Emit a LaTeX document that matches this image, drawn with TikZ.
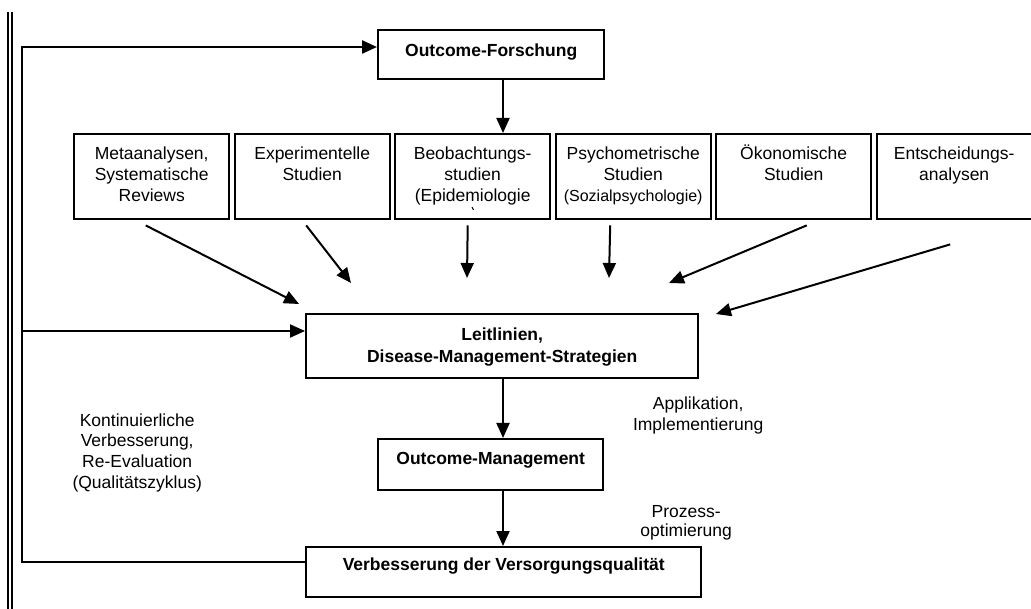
\documentclass[tikz,border=0pt]{standalone}
\usepackage{fontspec}
\setmainfont{Liberation Sans}
\usetikzlibrary{arrows.meta}
\newcommand\mytxt[4]{\parbox[c][#2][t]{#1}{\centering\rule{0pt}{#3}#4}}
\begin{document}
\begin{tikzpicture}[x=1pt,y=-1pt,
  every node/.style={font=\fontsize{17.5}{21}\selectfont},
  bx/.style={draw, line width=2.4pt, inner sep=0pt, anchor=north west},
  lb/.style={inner sep=0pt, anchor=north west},
  arr/.style={line width=2pt, -{Triangle[length=15pt,width=13pt]}},
  ln/.style={line width=2.4pt}]
\useasboundingbox (0,0) rectangle (1031,609);

% left double border
\draw[line width=1.3pt] (8,12) -- (8,609);
\draw[line width=1.3pt] (12,12) -- (12,609);

% main boxes
\node[bx] (ofo) at (377,29) {\mytxt{226pt}{49pt}{26pt}{\bfseries Outcome-Forschung}};
\node[bx] (b1) at (73,133) {\mytxt{155pt}{85pt}{25pt}{Metaanalysen,\\Systematische\\Reviews}};
\node[bx] (b2) at (233.5,133) {\mytxt{155pt}{85pt}{25pt}{Experimentelle\\Studien}};
\node[bx] (b3) at (394,133) {\mytxt{155pt}{85pt}{25pt}{Beobachtungs-\\studien\\(Epidemiologie}};
\node[bx] (b4) at (554.5,133) {\mytxt{155pt}{85pt}{25pt}{Psychometrische\\Studien\\{\fontsize{16}{21}\selectfont(Sozialpsychologie)}}};
\node[bx] (b5) at (715,133) {\mytxt{155pt}{85pt}{25pt}{Ökonomische\\Studien}};
\node[bx] (b6) at (875.5,133) {\mytxt{155pt}{85pt}{25pt}{Entscheidungs-\\analysen}};
\node[bx] (leit) at (305,313) {\mytxt{392pt}{64pt}{26pt}{\bfseries\baselineskip=22pt Leitlinien,\\Disease-Management-Strategien}};
\node[bx] (om) at (377,438) {\mytxt{225pt}{51pt}{25pt}{\bfseries Outcome-Management}};
\node[bx] (verb) at (305,546) {\mytxt{395pt}{50pt}{23pt}{\bfseries Verbesserung der Versorgungsqualität}};

% stray mark below "(Epidemiologie"
\draw[line width=1pt] (472,207) -- (473.5,210);

% labels
\node[lb] (kont) at (37,406) {\mytxt{200pt}{90pt}{20pt}{\baselineskip=20.7pt Kontinuierliche\\Verbesserung,\\Re-Evaluation\\(Qualitätszyklus)}};
\node[lb] (appl) at (608,389) {\mytxt{180pt}{45pt}{20pt}{Applikation,\\Implementierung}};
\node[lb] (proz) at (606,497) {\mytxt{160pt}{45pt}{20pt}{\baselineskip=19pt Prozess-\\optimierung}};

% feedback loop
\coordinate (lt) at (22,47);
\coordinate (lm) at (22,331);
\coordinate (lbt) at (22,562);
\draw[arr, line width=2.4pt] (verb.west |- lbt) -- (lbt) -- (lt) -- (ofo.west |- lt);
\draw[arr] (lm) -- (leit.west |- lm);

% vertical flow
\coordinate (ax) at (503,0);
\draw[arr] (ofo.south -| ax) -- (b3.north -| ax);
\draw[arr] (leit.south -| ax) -- (om.north -| ax);
\draw[arr] (om.south -| ax) -- (verb.north -| ax);

% study arrows
\coordinate (t1) at (299,304);
\coordinate (t2) at (351,283);
\coordinate (t3) at (467,278);
\coordinate (t4) at (609,278);
\coordinate (t5) at (669,283);
\coordinate (t6) at (716,314);
\draw[arr] ([shift={(-6,5)}]b1.south) -- (t1);
\draw[arr] ([shift={(-6,5)}]b2.south) -- (t2);
\draw[arr] ([shift={(-5,5)}]b3.south) -- (t3);
\draw[arr] ([shift={(-23,5)}]b4.south) -- (t4);
\draw[arr] ([shift={(13,5)}]b5.south) -- (t5);
\draw[arr] ([shift={(-4,24)}]b6.south) -- (t6);
\end{tikzpicture}
\end{document}
